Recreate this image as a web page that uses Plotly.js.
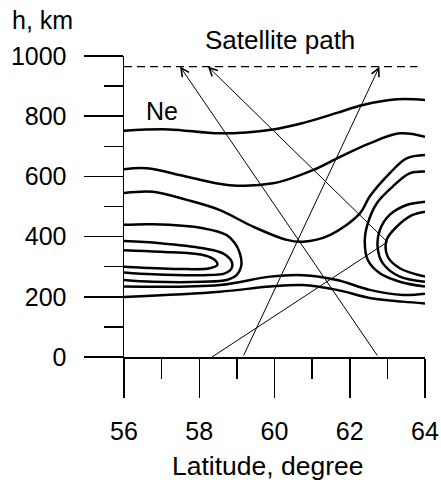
<!DOCTYPE html>
<html>
<head>
<meta charset="utf-8">
<script src="https://cdn.plot.ly/plotly-3.0.1.min.js"></script>
<style>html,body{margin:0;padding:0;background:#fff;}#chart{width:441px;height:483px;}</style>
</head>
<body>
<div id="chart"></div>
<script>
// ---- data (latitude, degree ; height, km) ----
const xTickVals = [56, 58, 60, 62, 64];
const yTickVals = [0, 200, 400, 600, 800, 1000];

const c750Lat = [56, 57.2, 58.55, 59.96, 60.75, 61.66, 62.35, 63.25, 64];
const c750H   = [752, 756, 743, 756, 777, 811, 837, 856, 854];

const c620Lat = [56, 56.61, 57.67, 58.81, 59.96, 61.02, 61.74, 62.53, 63.33, 64];
const c620H   = [624, 627, 599, 571, 577, 621, 665, 710, 743, 732];

const c540Lat = [56, 56.77, 57.67, 58.55, 59.43, 60.33, 60.75, 61.47, 62.27, 62.53, 63.06, 63.51, 64];
const c540H   = [545, 549, 522, 488, 433, 389, 383, 405, 477, 533, 610, 660, 671];

const leftOuterLat = [56, 56.77, 58.10, 58.73, 58.95, 59.08, 59.12, 58.99, 58.73, 58.10, 56.77, 56];
const leftOuterH   = [439, 441, 428, 405, 378, 344, 306, 272, 256, 250, 250, 256];

const leftMidLat = [56, 56.96, 58.10, 58.63, 58.86, 58.86, 58.68, 58.10, 56.77, 56];
const leftMidH   = [385, 378, 361, 344, 317, 295, 278, 272, 275, 281];

const leftInLat = [56, 56.96, 58.10, 58.42, 58.48, 58.28, 57.66, 56.42, 56];
const leftInH   = [355, 350, 339, 322, 306, 295, 292, 297, 300];

const rightOuterLat = [64, 63.59, 63.14, 62.72, 62.48, 62.40, 62.48, 62.80, 63.33, 64];
const rightOuterH   = [616, 610, 566, 511, 444, 389, 322, 278, 250, 234];

const rightMidLat = [64, 63.51, 63.06, 62.80, 62.74, 62.88, 63.33, 64];
const rightMidH   = [516, 505, 472, 422, 366, 311, 267, 250];

const rightInLat = [64, 63.67, 63.25, 62.98, 63.01, 63.33, 64];
const rightInH   = [483, 472, 433, 389, 333, 295, 267];

const lowALat = [56, 58.55, 59.88, 60.75, 61.66, 62.53, 63.41, 64];
const lowAH   = [234, 239, 267, 272, 256, 223, 206, 210];

const lowBLat = [56, 58.55, 59.88, 60.75, 61.66, 62.53, 63.41, 64];
const lowBH   = [199, 217, 234, 239, 223, 196, 184, 178];

// satellite path (dashed) and rays
const pathLat = [56, 63.8];
const pathH   = [965, 965];

const rayBLowLat = [58.34, 63.0];
const rayBLowH   = [0, 382];

// arrows: tail -> head
const arrowTailLat = [62.76, 63.0, 59.16];
const arrowTailH   = [0, 382, 0];
const arrowHeadLat = [57.49, 58.23, 62.79];
const arrowHeadH   = [965, 965, 965];

// ---- chart ----
const FONT = 'Liberation Sans, Arial, sans-serif';
const contourLine = {color: '#000', width: 2.5, shape: 'spline', smoothing: 1};
function contour(x, y) {
  return {x: x, y: y, type: 'scatter', mode: 'lines', line: contourLine, hoverinfo: 'skip', showlegend: false};
}
const traces = [
  contour(c750Lat, c750H),
  contour(c620Lat, c620H),
  contour(c540Lat, c540H),
  contour(leftOuterLat, leftOuterH),
  contour(leftMidLat, leftMidH),
  contour(leftInLat, leftInH),
  contour(rightOuterLat, rightOuterH),
  contour(rightMidLat, rightMidH),
  contour(rightInLat, rightInH),
  contour(lowALat, lowAH),
  contour(lowBLat, lowBH),
  {x: pathLat, y: pathH, type: 'scatter', mode: 'lines', line: {color: '#000', width: 1.2, dash: '8px,5px'}, showlegend: false, hoverinfo: 'skip'},
  {x: rayBLowLat, y: rayBLowH, type: 'scatter', mode: 'lines', line: {color: '#000', width: 1}, showlegend: false, hoverinfo: 'skip'}
];

const annotations = arrowHeadLat.map((hx, i) => ({
  x: hx, y: arrowHeadH[i], xref: 'x', yref: 'y',
  ax: arrowTailLat[i], ay: arrowTailH[i], axref: 'x', ayref: 'y',
  text: '', showarrow: true, arrowhead: 5, arrowsize: 1.6, arrowwidth: 1, arrowcolor: '#000'
}));
annotations.push(
  {text: 'h, km', xref: 'paper', yref: 'paper', x: -0.379, y: 1.12, xanchor: 'left', yanchor: 'middle', showarrow: false, font: {family: FONT, size: 25, color: '#000'}},
  {text: 'Satellite path', xref: 'paper', yref: 'paper', x: 0.518, y: 1.053, xanchor: 'center', yanchor: 'middle', showarrow: false, font: {family: FONT, size: 26, color: '#000'}},
  {text: 'Ne', xref: 'x', yref: 'y', x: 57.0, y: 817, xanchor: 'center', yanchor: 'middle', showarrow: false, font: {family: FONT, size: 25, color: '#000'}},
  {text: 'Latitude, degree', xref: 'paper', yref: 'paper', x: 0.478, y: -0.362, xanchor: 'center', yanchor: 'middle', showarrow: false, font: {family: FONT, size: 26.5, color: '#000'}}
);

const layout = {
  width: 441, height: 483,
  margin: {l: 124, r: 16, t: 56, b: 126, pad: 0},
  paper_bgcolor: '#fff', plot_bgcolor: '#fff',
  font: {family: FONT, size: 25, color: '#000'},
  showlegend: false,
  xaxis: {
    range: [56, 64], tickvals: xTickVals, ticktext: xTickVals.map(String),
    showgrid: false, zeroline: false, showline: true, linecolor: '#000', linewidth: 1.5,
    ticks: 'outside', ticklen: 39, tickwidth: 1.5, tickcolor: '#000', ticklabelstandoff: 12,
    minor: {dtick: 1, tick0: 56, ticks: 'outside', ticklen: 20, tickwidth: 1.5, tickcolor: '#000', showgrid: false},
    fixedrange: true
  },
  yaxis: {
    range: [0, 1000], tickvals: yTickVals, ticktext: yTickVals.map(String),
    showgrid: false, zeroline: false, showline: true, linecolor: '#000', linewidth: 1.5,
    ticks: 'outside', ticklen: 39, tickwidth: 1.5, tickcolor: '#000', ticklabelstandoff: 12,
    minor: {dtick: 100, tick0: 0, ticks: 'outside', ticklen: 19, tickwidth: 1.5, tickcolor: '#000', showgrid: false},
    fixedrange: true
  },
  annotations: annotations
};

Plotly.newPlot('chart', traces, layout, {staticPlot: true, displayModeBar: false});
</script>
</body>
</html>
